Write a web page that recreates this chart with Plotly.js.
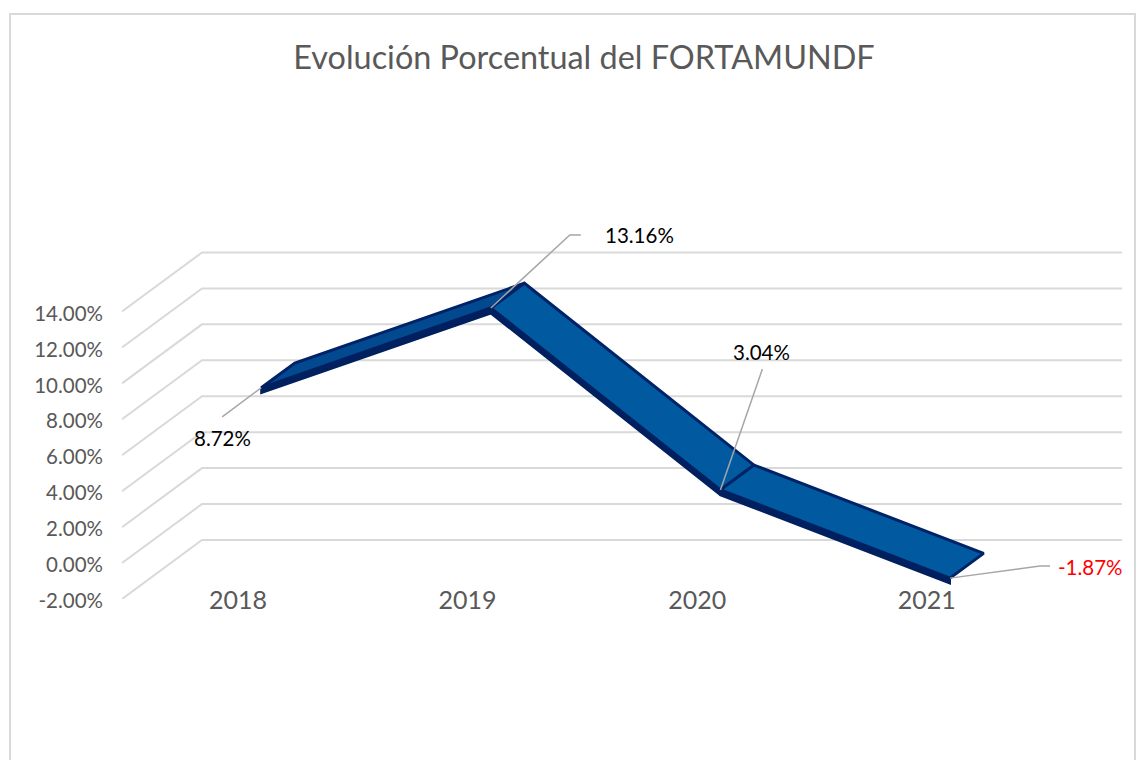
<!DOCTYPE html>
<html>
<head>
<meta charset="utf-8">
<script src="https://cdn.plot.ly/plotly-3.0.1.min.js"></script>
<style>html,body{margin:0;padding:0;background:#fff;overflow:hidden}#chart{width:1145px;height:760px}</style>
</head>
<body>
<div id="chart"></div>
<script>
// Data
const years = ["2018", "2019", "2020", "2021"];
const values = [8.72, 13.16, 3.04, -1.87];
const valueLabels = ["8.72%", "13.16%", "3.04%", "-1.87%"];
const axisTicks = [-2, 0, 2, 4, 6, 8, 10, 12, 14];
const axisTickLabels = ["-2.00%", "0.00%", "2.00%", "4.00%", "6.00%", "8.00%", "10.00%", "12.00%", "14.00%"];

// Page layout
const W = 1145, H = 760;
const left = 122, right = 1122, top_ = 220, bottom = 599;
const pxPerCat = 229.6, pxPerPct = 17.97;
const firstCatPx = 238;
const xRange = [(left - firstCatPx) / pxPerCat, (right - firstCatPx) / pxPerCat];
const yRange = [-2, -2 + (bottom - top_) / pxPerPct];

// Fake-3D projection
const depthX = 80 / pxPerCat, depthY = 59 / pxPerPct;
const frontD = 0.29, backD = 0.71, thickness = 0.3, lift = 0.08;
const px = (i, v, d) => i + d * depthX;
const py = (i, v, d) => v + d * depthY + lift;

const traces = [];
const line = (xs, ys, color, width) => traces.push({
  type: "scatter", mode: "lines", x: xs, y: ys, hoverinfo: "skip", cliponaxis: false,
  line: {color, width, shape: "linear"}
});
const poly = (xs, ys, fill, edge, width) => traces.push({
  type: "scatter", mode: "lines", x: xs, y: ys, fill: "toself", fillcolor: fill, hoverinfo: "skip",
  cliponaxis: false, line: {color: edge, width}
});

// Gridlines: floor/side diagonal + back wall
axisTicks.forEach(v => line(
  [xRange[0], xRange[0] + depthX, xRange[1]],
  [v, v + depthY, v + depthY],
  "#d9d9d9", 2
));

// Ribbon faces
const faceColors = ["#03498f", "#015a9f", "#015a9f"];
const edge = "#002266", under = "#00205f";
for (let i = 0; i < values.length - 1; i++) {
  const a = values[i], b = values[i + 1];
  poly(
    [px(i, a, frontD), px(i, a, backD), px(i + 1, b, backD), px(i + 1, b, frontD), px(i, a, frontD)],
    [py(i, a, frontD), py(i, a, backD), py(i + 1, b, backD), py(i + 1, b, frontD), py(i, a, frontD)],
    faceColors[i], edge, 3
  );
}
for (let i = 0; i < values.length - 1; i++) {
  const a = values[i], b = values[i + 1];
  poly(
    [px(i, a, frontD), px(i + 1, b, frontD), px(i + 1, b, frontD), px(i, a, frontD), px(i, a, frontD)],
    [py(i, a, frontD), py(i + 1, b, frontD), py(i + 1, b, frontD) - thickness, py(i, a, frontD) - thickness, py(i, a, frontD)],
    under, under, 2
  );
}

// Leader lines: offsets in screen px from each ribbon point
const leaders = [
  [[0, 0], [-39, 29]],
  [[0, 0], [79, -73], [90, -73]],
  [[0, 0], [42, -121]],
  [[0, 0], [90, -12], [100, -12]]
];
const labelShift = [[-39, 50], [149, -73], [41, -138], [140, -11]];
const labelColors = ["#000000", "#000000", "#000000", "#ff0000"];
leaders.forEach((pts, i) => line(
  pts.map(p => px(i, values[i], frontD) + p[0] / pxPerCat),
  pts.map(p => py(i, values[i], frontD) - p[1] / pxPerPct),
  "#a6a6a6", 1.5
));

const annotations = values.map((v, i) => ({
  x: px(i, v, frontD), y: py(i, v, frontD), xref: "x", yref: "y",
  xshift: labelShift[i][0], yshift: -labelShift[i][1],
  text: valueLabels[i], showarrow: false, xanchor: "center", yanchor: "middle",
  font: {family: "Lato, Carlito, sans-serif", size: 20.5, color: labelColors[i]}
}));

const layout = {
  width: W, height: H,
  margin: {l: left, r: W - right, t: top_, b: H - bottom},
  paper_bgcolor: "#ffffff", plot_bgcolor: "#ffffff",
  showlegend: false,
  title: {
    text: "Evolución Porcentual del FORTAMUNDF",
    x: 584 / W, xanchor: "center", xref: "container",
    y: 1 - 58 / H, yanchor: "middle", yref: "container",
    font: {family: "Lato, Carlito, sans-serif", size: 32.4, color: "#595959"}
  },
  xaxis: {
    range: xRange, showgrid: false, zeroline: false, showline: false,
    tickmode: "array", tickvals: years.map((_, i) => i), ticktext: years,
    ticks: "", ticklabelstandoff: -16,
    tickfont: {family: "Lato, Carlito, sans-serif", size: 25, color: "#595959"}
  },
  yaxis: {
    range: yRange, showgrid: false, zeroline: false, showline: false,
    tickmode: "array", tickvals: axisTicks, ticktext: axisTickLabels,
    ticks: "", ticklabelstandoff: 18, ticklabelshift: 2,
    tickfont: {family: "Lato, Carlito, sans-serif", size: 20.5, color: "#595959"}
  },
  shapes: [{
    type: "rect", xref: "paper", yref: "paper",
    x0: (10 - left) / (right - left), x1: (1135 - left) / (right - left),
    y0: (bottom - 775) / (bottom - top_), y1: (bottom - 14) / (bottom - top_),
    line: {color: "#d9d9d9", width: 2}, fillcolor: "rgba(0,0,0,0)", layer: "below"
  }],
  annotations
};
Plotly.newPlot("chart", traces, layout, {displayModeBar: false, staticPlot: true});
</script>
</body>
</html>
